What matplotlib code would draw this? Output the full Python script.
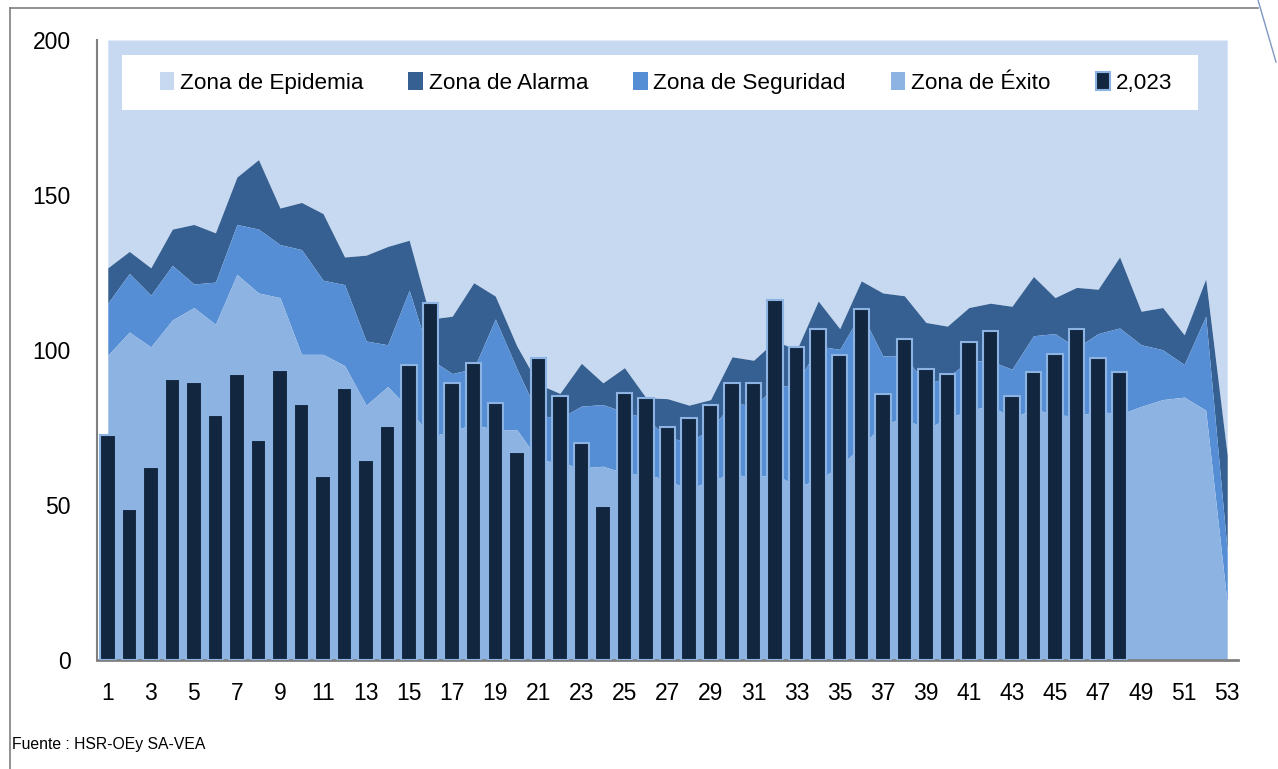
import matplotlib.pyplot as plt
from matplotlib.patches import Patch, Rectangle
from matplotlib.lines import Line2D
import numpy as np

plt.rcParams["font.family"] = ["Liberation Sans", "DejaVu Sans"]

weeks = np.arange(1, 54)

# upper edge of each zone (cumulative values)
exito_top = [98.3, 105.8, 101.0, 109.7, 113.7, 108.3, 124.4, 118.4, 116.9, 98.6,
             98.6, 95.0, 82.2, 88.2, 81.0, 72.0, 74.0, 76.0, 74.3, 74.3,
             64.6, 63.6, 62.0, 62.5, 60.3, 60.0, 58.0, 55.0, 58.0, 60.0,
             59.0, 60.0, 56.0, 58.0, 62.5, 69.0, 76.0, 78.0, 74.4, 78.0,
             80.4, 82.2, 78.0, 81.0, 79.2, 78.6, 80.4, 79.2, 81.8, 84.0,
             84.8, 80.6, 18.0]
seguridad_top = [115.1, 124.7, 117.7, 127.3, 121.3, 121.9, 140.5, 139.0, 134.0, 132.4,
                 122.5, 121.1, 102.9, 101.7, 119.3, 97.0, 92.4, 94.0, 110.0, 94.0,
                 79.0, 78.0, 81.9, 82.4, 80.0, 78.0, 71.7, 70.5, 74.3, 83.0,
                 82.0, 88.0, 89.0, 101.3, 100.2, 112.0, 98.1, 98.1, 89.0, 91.2,
                 96.5, 96.5, 93.8, 104.6, 105.3, 100.7, 105.3, 107.1, 101.7, 100.1,
                 95.3, 110.9, 35.0]
alarma_top = [126.5, 131.8, 126.5, 139.0, 140.5, 137.8, 155.8, 161.4, 145.8, 147.6,
              144.0, 130.0, 130.6, 133.4, 135.4, 110.0, 110.9, 121.7, 117.4, 101.3,
              89.0, 86.0, 95.7, 89.4, 94.3, 84.6, 84.3, 82.2, 84.0, 97.8,
              96.7, 103.0, 100.0, 115.8, 106.9, 122.3, 118.4, 117.5, 108.9, 107.7,
              113.7, 115.1, 114.1, 123.7, 116.9, 120.2, 119.6, 130.0, 112.5, 113.7,
              104.9, 122.9, 66.0]
epidemia_top = [200] * 53

casos_2023 = [72.6, 48.7, 62.4, 90.6, 89.7, 78.9, 92.1, 71.0, 93.4, 82.5,
              59.4, 87.7, 64.6, 75.4, 95.1, 115.3, 89.2, 95.9, 83.0, 67.0,
              97.5, 85.3, 70.0, 49.6, 86.0, 84.6, 75.1, 78.1, 82.4, 89.4,
              89.4, 116.1, 101.0, 106.9, 98.3, 113.3, 85.8, 103.7, 93.8, 92.3,
              102.5, 106.1, 85.2, 92.9, 98.8, 106.7, 97.4, 92.9]

c_epi = '#C6D9F1'
c_ala = '#366092'
c_seg = '#558ED5'
c_exi = '#8DB3E2'
c_bar = '#12263F'

fig = plt.figure(figsize=(12.78, 7.69), dpi=100)
ax = fig.add_axes([97 / 1278, 1 - 660 / 769, 1141 / 1278, 620 / 769])

ax.fill_between(weeks, alarma_top, epidemia_top, color=c_epi, lw=0)
ax.fill_between(weeks, seguridad_top, alarma_top, color=c_ala, lw=0)
ax.fill_between(weeks, exito_top, seguridad_top, color=c_seg, lw=0)
ax.fill_between(weeks, 0, exito_top, color=c_exi, lw=0)

bar_x = np.arange(1, len(casos_2023) + 1)
ax.bar(bar_x, casos_2023, 0.72, color=c_bar, edgecolor='#8DB3E2', linewidth=1.5, zorder=3)

ax.set_xlim(0.5, 53.5)
ax.set_ylim(0, 200)
ax.set_xticks(np.arange(1, 54, 2))
ax.set_yticks([0, 50, 100, 150, 200])
ax.tick_params(axis='both', length=0, labelsize=16.5)
ax.tick_params(axis='x', pad=16)
ax.tick_params(axis='y', pad=19)
for s in ['top', 'right']:
    ax.spines[s].set_visible(False)
ax.spines['left'].set_color('#808080')
ax.spines['left'].set_linewidth(1.5)
ax.spines['bottom'].set_color('#808080')
ax.spines['bottom'].set_linewidth(2)

# white legend box
ax.add_patch(Rectangle((0.0219, 0.887), 0.943, 0.089, transform=ax.transAxes,
                       facecolor='white', edgecolor='none', zorder=4))

handles = [Patch(facecolor=c_epi, edgecolor='none'),
           Patch(facecolor=c_ala, edgecolor='none'),
           Patch(facecolor=c_seg, edgecolor='none'),
           Patch(facecolor=c_exi, edgecolor='none'),
           Patch(facecolor=c_bar, edgecolor='#8DB3E2', linewidth=1.5)]
labels = ['Zona de Epidemia', 'Zona de Alarma', 'Zona de Seguridad', 'Zona de Éxito', '2,023']
leg = ax.legend(handles, labels, ncol=5, loc='center',
                bbox_to_anchor=(0.4987, 0.931), fontsize=16.2,
                frameon=False, handlelength=0.65, handleheight=0.85, handletextpad=0.25,
                columnspacing=2.0, borderaxespad=0, borderpad=0)
leg.set_zorder(5)

fig.text(12 / 1278, 1 - 745 / 769, 'Fuente : HSR-OEy SA-VEA', fontsize=11.3,
         va='center', ha='left')

# outer frame lines
fig.add_artist(Line2D([10 / 1278, 10 / 1278], [0, 1 - 8 / 769], color='#7F7F7F', lw=1.2))
fig.add_artist(Line2D([10 / 1278, 1258 / 1278], [1 - 8 / 769, 1 - 8 / 769], color='#7F7F7F', lw=1.2))
fig.add_artist(Line2D([1258 / 1278, 1276 / 1278], [1.0, 1 - 62 / 769], color='#7F96C0', lw=1))

fig.savefig('out.png', dpi=100)
